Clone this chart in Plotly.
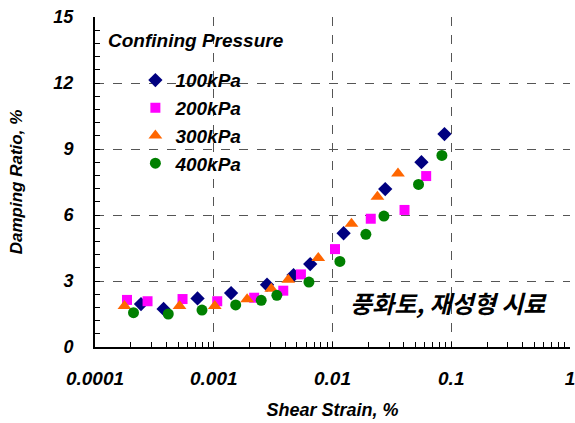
import plotly.graph_objects as go

# ---- data ----
strain_100 = [2.44e-4, 3.78e-4, 7.3e-4, 1.40e-3, 2.81e-3, 4.7e-3, 6.49e-3, 0.0124, 0.0278, 0.0561, 0.0877]
damp_100 = [1.95, 1.73, 2.21, 2.45, 2.83, 3.27, 3.77, 5.17, 7.18, 8.40, 9.68]

strain_200 = [1.86e-4, 2.77e-4, 5.46e-4, 1.07e-3, 2.19e-3, 3.85e-3, 5.42e-3, 0.0105, 0.0210, 0.0404, 0.0615]
damp_200 = [2.14, 2.08, 2.18, 2.08, 2.24, 2.56, 3.30, 4.45, 5.83, 6.23, 7.77]

strain_300 = [1.77e-4, 5.15e-4, 1.02e-3, 1.91e-3, 3.05e-3, 4.24e-3, 7.59e-3, 0.01445, 0.0239, 0.0356]
damp_300 = [1.86, 1.86, 1.86, 2.17, 2.65, 3.06, 4.05, 5.60, 6.83, 7.89]

strain_400 = [2.11e-4, 4.14e-4, 7.96e-4, 1.53e-3, 2.51e-3, 3.40e-3, 6.33e-3, 0.01154, 0.0191, 0.0271, 0.0530, 0.0834]
damp_400 = [1.56, 1.50, 1.68, 1.91, 2.12, 2.35, 2.95, 3.89, 5.12, 5.95, 7.39, 8.71]

series_names = ["100kPa", "200kPa", "300kPa", "400kPa"]
x_tickvals = [0.0001, 0.001, 0.01, 0.1, 1]
x_ticktext = ["0.0001", "0.001", "0.01", "0.1", "1"]
y_tickvals = [0, 3, 6, 9, 12, 15]
y_ticktext = ["0", "3", "6", "9", "12", "15"]

FONT = "Liberation Sans"


def bi(s):
    return "<b><i>" + s + "</i></b>"


styles = [
    dict(symbol="diamond", color="#000080", size=11),
    dict(symbol="square", color="#FF00FF", size=10),
    dict(symbol="triangle-up", color="#FF6600", size=12),
    dict(symbol="circle", color="#008000", size=11),
]
xs = [strain_100, strain_200, strain_300, strain_400]
ys = [damp_100, damp_200, damp_300, damp_400]

fig = go.Figure()
for i, name in enumerate(series_names):
    st = styles[i]
    fig.add_trace(go.Scatter(
        x=xs[i], y=ys[i], mode="markers", name=bi(name), legendgroup=name,
        marker=dict(symbol=st["symbol"], color=st["color"], size=st["size"], line=dict(width=0)),
    ))

fig.update_layout(
    width=575, height=423,
    margin=dict(l=95, r=5, t=17, b=76),
    paper_bgcolor="white", plot_bgcolor="white",
    font=dict(family=FONT, color="black"),
    showlegend=True,
    legend=dict(
        x=0.085, y=0.866, xanchor="left", yanchor="top",
        bgcolor="rgba(0,0,0,0)",
        font=dict(family=FONT, size=19, color="black"),
        tracegroupgap=0,
    ),
)

fig.update_xaxes(
    type="log", range=[-4, 0], automargin=False,
    tickvals=x_tickvals, ticktext=[bi(t) for t in x_ticktext],
    ticks="inside", ticklen=5, tickcolor="black",
    minor=dict(ticks="inside", ticklen=5, tickcolor="black", dtick="D1", showgrid=False),
    showline=True, linecolor="black", linewidth=2, mirror=False,
    showgrid=True, gridcolor="#555555", griddash="dash", gridwidth=1,
    zeroline=False, ticklabeloverflow="allow",
    tickfont=dict(family=FONT, size=19, color="black"),
    ticklabelstandoff=13,
    title=dict(text=bi("Shear Strain, %"), standoff=16,
               font=dict(family=FONT, size=18, color="black")),
)
fig.update_yaxes(
    range=[0, 15], automargin=False,
    tickvals=y_tickvals, ticktext=[bi(t) for t in y_ticktext],
    ticks="inside", ticklen=5, tickcolor="black",
    minor=dict(ticks="inside", ticklen=5, tickcolor="black", dtick=0.6, showgrid=False),
    showline=True, linecolor="black", linewidth=2, mirror=False,
    showgrid=True, gridcolor="#555555", griddash="dash", gridwidth=1,
    zeroline=False,
    tickfont=dict(family=FONT, size=18, color="black"),
    ticklabelstandoff=16,
    title=dict(text=bi("Damping Ratio, %"), standoff=26,
               font=dict(family=FONT, size=17, color="black")),
)

fig.add_annotation(
    text=bi("Confining Pressure"), xref="paper", yref="paper",
    x=(106 - 95) / 475, y=(347 - 40) / 330, xanchor="left", yanchor="middle",
    showarrow=False,
    font=dict(family=FONT, size=19, color="black"),
)
fig.add_annotation(
    text=bi("풍화토, 재성형 시료"), xref="paper", yref="paper",
    x=(448 - 95) / 475, y=(347 - 302) / 330, xanchor="center", yanchor="middle",
    showarrow=False,
    font=dict(family="Noto Sans CJK KR", size=24, color="black"),
)

fig.write_html("out.html")
